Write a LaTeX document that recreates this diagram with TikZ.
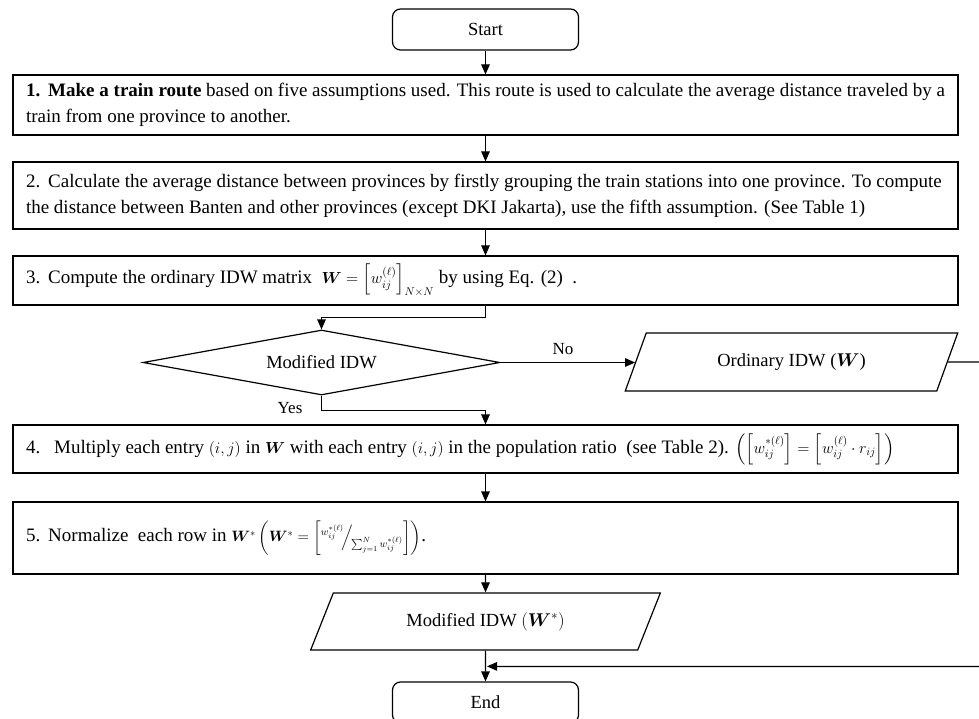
\RequirePackage{fix-cm}
\documentclass[tikz,border=0pt]{standalone}
\usepackage{amsmath,bm}
\usepackage{fontspec}
\setmainfont{Liberation Serif}
\usetikzlibrary{shapes.geometric,arrows.meta}
\newcommand\smallmath[2]{{\fontsize{#1}{20}\selectfont$#2$}}
\begin{document}
\begin{tikzpicture}[x=1pt,y=-1pt,
  font=\fontsize{19}{26}\selectfont,
  line width=1.2pt,
  box/.style={draw, minimum width=945pt, inner sep=0pt},
  term/.style={draw, rounded corners=8pt, minimum width=186pt, minimum height=41pt, inner sep=0pt, font=\fontsize{18.5}{22}\selectfont},
  io/.style={draw, trapezium, trapezium left angle=57.5, trapezium right angle=122.5, trapezium stretches=true, inner sep=0pt, font=\fontsize{18.5}{22}\selectfont},
  dec/.style={draw, diamond, aspect=5.5, inner sep=0pt, minimum width=357pt, minimum height=65pt, font=\fontsize{18.5}{22}\selectfont},
  arr/.style={-{Triangle[length=10pt,width=8.5pt]}},
  txt/.style={anchor=west, inner sep=0pt, align=left},
  lbl/.style={inner sep=0pt, font=\fontsize{17}{20}\selectfont}
]
\useasboundingbox (0,0) rectangle (979,719);
\clip (0,0) rectangle (979,719);
\fill[white] (0,0) rectangle (979,719);

\node[term] (start) at (485.5,29.5) {Start};

\node[box, minimum height=60pt] (b1) at (485.5,105) {};
\node[txt] (t1) at ([xshift=13pt]b1.west) {\textbf{1.\hspace{8pt}Make a train route} based on five assumptions used. This route is used to calculate the average distance traveled by a\\train from one province to another.};

\node[box, minimum height=67pt] (b2) at (485.5,195.5) {};
\node[txt] (t2) at ([xshift=13pt]b2.west) {2.\hspace{8pt}Calculate the average distance between provinces by firstly grouping the train stations into one province. To compute\\the distance between Banten and other provinces (except DKI Jakarta), use the fifth assumption. (See Table 1)};

\node[box, minimum height=49pt] (b3) at (485.5,280.5) {};
\node[txt] (t3) at ([xshift=13pt]b3.west) {3.\hspace{8pt}Compute the ordinary IDW matrix\ \ \smallmath{16}{\bm{W}=\left[w_{ij}^{(\ell)}\right]_{N\times N}} by using Eq. (2)\ \ .};

\node[dec] (dec) at (321.5,362.5) {Modified IDW};
\node[io, minimum width=333pt, minimum height=58pt] (ord) at (791.5,362) {Ordinary IDW ($\bm{W}$)};
\node[lbl] (no) at (563,349) {No};
\node[lbl] (yes) at (290,408) {Yes};

\node[box, minimum height=48pt] (b4) at (485.5,449) {};
\node[txt] (t4) at ([xshift=13pt]b4.west) {4.\hspace{14pt}Multiply each entry \smallmath{16}{(i,j)} in \smallmath{16}{\bm{W}} with each entry \smallmath{16}{(i,j)} in the population ratio\ \ (see Table 2). \smallmath{16}{\left(\left[w_{ij}^{*(\ell)}\right]=\left[w_{ij}^{(\ell)}\cdot r_{ij}\right]\right)}};

\node[box, minimum height=72pt] (b5) at (485.5,538) {};
\node[txt] (t5) at ([xshift=13pt]b5.west) {5.\hspace{8pt}Normalize\ \ each row in \smallmath{15}{\bm{W}^{*}\left(\bm{W}^{*}=\left[{}^{w_{ij}^{*(\ell)}}\!\Big/\!{}_{\sum_{j=1}^{N} w_{ij}^{*(\ell)}}\right]\right)}.};

\node[io, minimum width=350pt, minimum height=57pt] (mod) at (485.5,621.5) {Modified IDW $\left(\bm{W}^{*}\right)$};

\node[term] (end) at (485.5,702.5) {End};

\draw[arr] (start) -- (b1);
\draw[arr] (b1) -- (b2);
\draw[arr] (b2) -- (b3);
\draw[arr] (b3.south) -- ++(0,12) -| (dec.north);
\draw[arr] (dec.east) -- (dec.east -| ord.west);
\draw[arr] (dec.south) -- ++(0,15) -| (b4.north);
\draw[arr] (b4) -- (b5);
\draw[arr] (b5) -- (mod);
\draw[arr] (mod) -- (end);
\path (end.north) ++(1.5,-15) coordinate (jn);
\draw[arr] (ord.east) -- (1000,362) |- (jn);
\end{tikzpicture}
\end{document}
